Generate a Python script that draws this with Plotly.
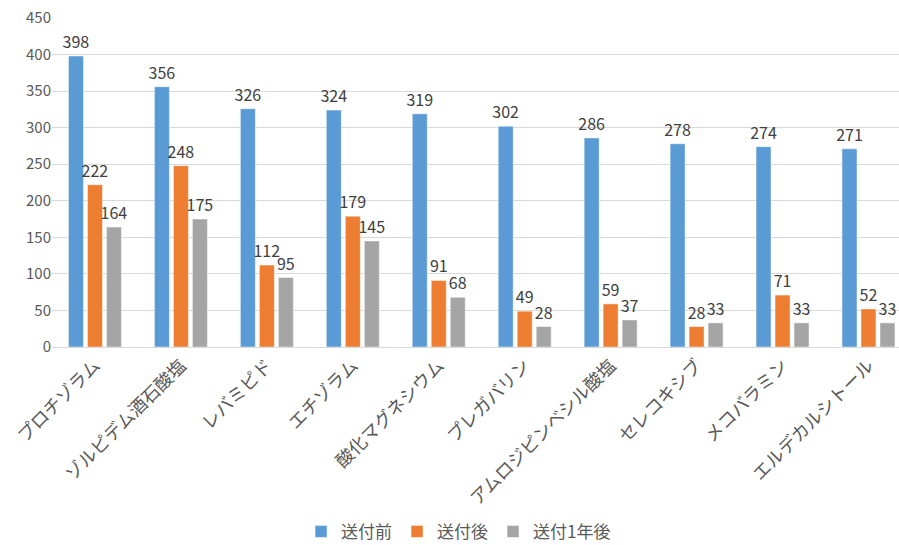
import plotly.graph_objects as go

# Drug names (x categories)
categories = ["プロチゾラム", "ゾルピデム酒石酸塩", "レバミピド", "エチゾラム", "酸化マグネシウム",
              "プレガバリン", "アムロジピンベシル酸塩", "セレコキシブ", "メコバラミン", "エルデカルシトール"]

# Counts per period
before = [398, 356, 326, 324, 319, 302, 286, 278, 274, 271]
after = [222, 248, 112, 179, 91, 49, 59, 28, 71, 52]
after_1y = [164, 175, 95, 145, 68, 28, 37, 33, 33, 33]

series_names = ["送付前", "送付後", "送付1年後"]
colors = ["#5B9BD5", "#ED7D31", "#A5A5A5"]

FONT = "Noto Sans CJK JP"
TEXT_COLOR = "#595959"

fig = go.Figure()
for name, vals, col in zip(series_names, [before, after, after_1y], colors):
    fig.add_trace(go.Bar(
        x=categories, y=vals, name=name,
        marker=dict(color=col, line=dict(color="rgba(255,255,255,0.6)", width=0.8)),
        text=[str(v) for v in vals], textposition="outside",
        constraintext="none", cliponaxis=False,
        textfont=dict(family=FONT, size=16, color="#404040"),
    ))

fig.update_layout(
    width=899, height=545,
    margin=dict(l=51.5, r=0, t=17.5, b=198.3, autoexpand=False),
    paper_bgcolor="white", plot_bgcolor="white",
    barmode="group", bargap=0.337, bargroupgap=0.21,
    font=dict(family=FONT, color=TEXT_COLOR),
    showlegend=True,
    legend=dict(orientation="h", x=0.48, xanchor="center", y=-0.562, yanchor="middle",
                font=dict(family=FONT, size=17, color=TEXT_COLOR),
                itemwidth=30, traceorder="normal"),
    xaxis=dict(range=[-0.5, 9.355], tickangle=-45, showgrid=False, automargin=False,
               showline=True, linecolor="#D9D9D9", linewidth=1,
               ticks="", tickfont=dict(family=FONT, size=18, color=TEXT_COLOR)),
    yaxis=dict(range=[0, 450], dtick=50, showgrid=True, gridcolor="#D9D9D9",
               gridwidth=1, zeroline=False, ticks="", automargin=False,
               tickfont=dict(family=FONT, size=15, color=TEXT_COLOR)),
)

fig.write_html("out.html")
